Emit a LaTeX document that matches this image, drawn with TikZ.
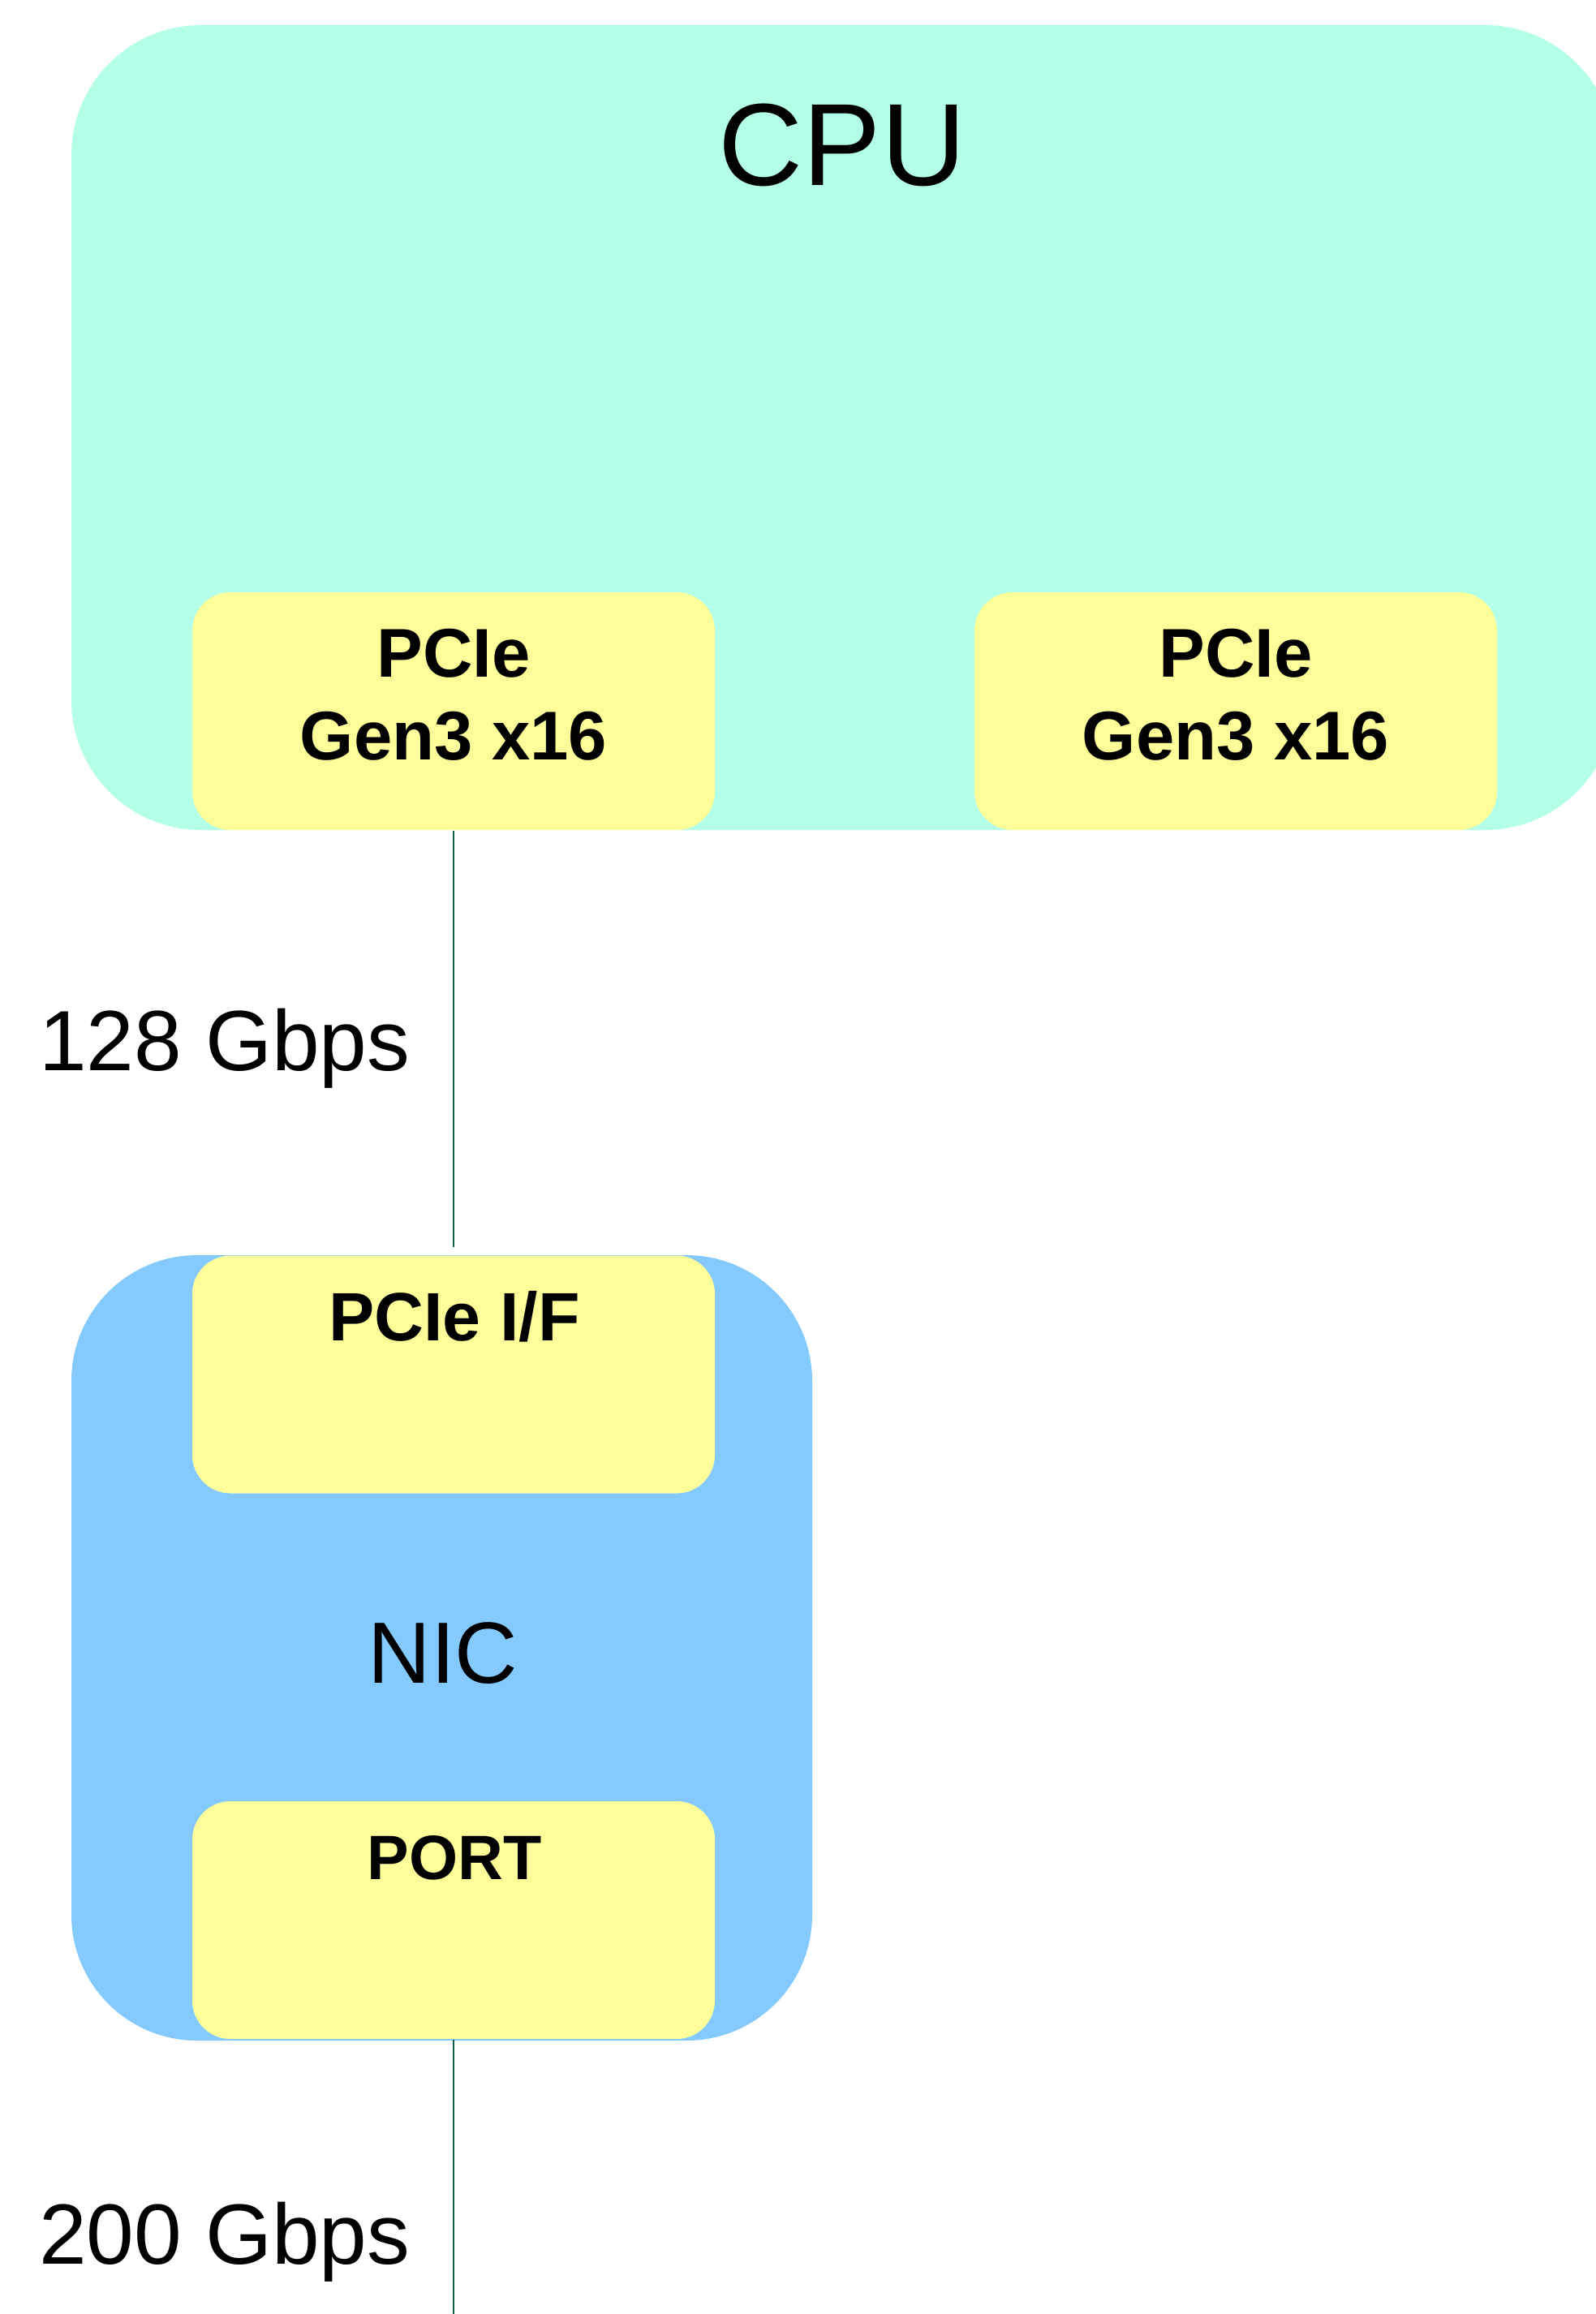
\documentclass[tikz,border=0pt]{standalone}
\usepackage{fontspec}
\setmainfont{Liberation Sans}
\usepackage{xcolor}
\definecolor{cpugreen}{HTML}{B3FFE8}
\definecolor{ifyellow}{HTML}{FDFD99}
\definecolor{nicblue}{HTML}{85CAFF}
\definecolor{linkgreen}{HTML}{0F5E4C}
\usetikzlibrary{positioning}
\tikzset{
  cpubox/.style={fill=cpugreen, rounded corners=1.6cm, inner sep=0pt},
  nicbox/.style={fill=nicblue, rounded corners=1.55cm, inner sep=0pt},
  ifbox/.style={fill=ifyellow, rounded corners=0.47cm, inner sep=0pt,
    minimum width=6.44cm, minimum height=2.93cm},
  iftext/.style={font=\bfseries\fontsize{24.2}{29}\selectfont, align=center, inner sep=0pt},
  link/.style={draw=linkgreen, line width=0.7pt},
  speed/.style={font=\fontsize{30}{36}\selectfont, inner sep=0pt, anchor=base east}
}
\begin{document}
\begin{tikzpicture}
  \useasboundingbox (0,0) rectangle (19.67,-28.52);
  \clip (0,0) rectangle (19.67,-28.52);
  % CPU
  \node[cpubox, minimum width=19.02cm, minimum height=9.92cm] (cpu) at (10.39,-5.27) {};
  \node[font=\fontsize{41}{48}\selectfont, inner sep=0pt, anchor=base] (cputext) at (10.38,-2.29) {CPU};
  \node[ifbox] (pcieA) at (5.59,-8.765) {};
  \node[ifbox] (pcieB) at (15.23,-8.765) {};
  \node[iftext] (pcieAtext) at (pcieA.center) [yshift=0.2cm] {PCIe\\Gen3 x16};
  \node[iftext] (pcieBtext) at (pcieB.center) [yshift=0.2cm] {PCIe\\Gen3 x16};
  % NIC
  \node[nicbox, minimum width=9.13cm, minimum height=9.68cm] (nic) at (5.445,-20.31) {};
  \node[ifbox] (pcieif) at (5.59,-16.94) {};
  \node[ifbox] (port) at (5.59,-23.665) {};
  \node[font=\fontsize{30.5}{36}\selectfont, inner sep=0pt, anchor=base] (nictext) at (5.46,-20.74) {NIC};
  \node[font=\bfseries\fontsize{24}{28}\selectfont, inner sep=0pt, anchor=base] (pcieiftext) at (5.60,-16.52) {PCIe I/F};
  \node[font=\bfseries\fontsize{22}{26}\selectfont, inner sep=0pt, anchor=base] (porttext) at (5.60,-23.16) {PORT};
  % links
  \coordinate (wire) at (5.59,-28.52);
  \draw[link] (pcieA.south) -- ([yshift=0.09cm]nic.north -| pcieA.south);
  \draw[link] (port.south) -- (wire);
  \node[speed] (speedA) at (5.06,-13.19) {128 Gbps};
  \node[speed] (speedB) at (5.06,-27.90) {200 Gbps};
\end{tikzpicture}
\end{document}
